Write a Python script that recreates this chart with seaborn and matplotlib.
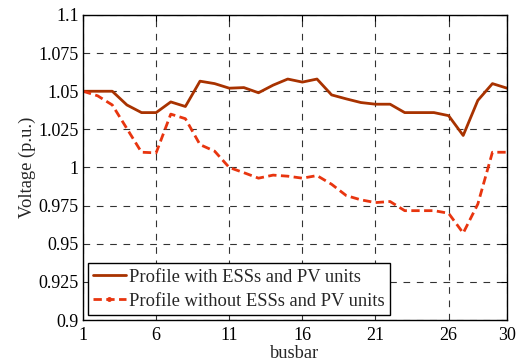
import numpy as np
import pandas as pd
import matplotlib
matplotlib.use("Agg")
import matplotlib.pyplot as plt
import seaborn as sns
from matplotlib.lines import Line2D

busbar = list(range(1, 31))
with_ess = [1.050, 1.050, 1.050, 1.041, 1.036, 1.036, 1.043, 1.040, 1.0566, 1.055,
            1.052, 1.0524, 1.049, 1.054, 1.058, 1.056, 1.058, 1.0476, 1.045, 1.0426,
            1.0415, 1.0415, 1.036, 1.036, 1.036, 1.034, 1.021, 1.044, 1.055, 1.052]
without_ess = [1.050, 1.047, 1.041, 1.0255, 1.010, 1.0096, 1.035, 1.032, 1.015, 1.0107,
               1.000, 0.9966, 0.993, 0.995, 0.9943, 0.993, 0.9947, 0.989, 0.9816, 0.9788,
               0.977, 0.9777, 0.9717, 0.9717, 0.9717, 0.970, 0.957, 0.976, 1.010, 1.010]
series_names = ["Profile with ESSs and PV units", "Profile without ESSs and PV units"]
xticks = [1, 6, 11, 16, 21, 26, 30]
yticks = [0.9, 0.925, 0.95, 0.975, 1.0, 1.025, 1.05, 1.075, 1.1]
ytick_labels = ["0.9", "0.925", "0.95", "0.975", "1", "1.025", "1.05", "1.075", "1.1"]

df = pd.DataFrame({
    "busbar": busbar * 2,
    "voltage": with_ess + without_ess,
    "series": [series_names[0]] * 30 + [series_names[1]] * 30,
})

sns.set_style("white")
plt.rcParams['font.family'] = ['Liberation Serif', 'DejaVu Serif']

fig = plt.figure(figsize=(5.19, 3.62), dpi=100)
ax = fig.add_axes([0.16, 0.116, 0.817, 0.8426])

colors = {series_names[0]: "#a83200", series_names[1]: "#e8350f"}
sns.lineplot(data=df, x="busbar", y="voltage", hue="series", style="series",
             palette=colors, dashes={series_names[0]: "", series_names[1]: (3, 1.6)},
             linewidth=2.0, ax=ax, legend=False)

ax.set_xlim(1, 30)
ax.set_ylim(0.9, 1.1)
ax.set_xticks(xticks)
ax.set_xticklabels([str(t) for t in xticks])
ax.set_yticks(yticks)
ax.set_yticklabels(ytick_labels)
ax.grid(True, color="black", linestyle=(0, (6, 6)), linewidth=0.8, alpha=0.8)
ax.tick_params(axis="both", direction="in", length=4, width=0.8, labelsize=13,
               colors="black", top=True, right=True)
ax.tick_params(axis="x", pad=5)
ax.tick_params(axis="y", pad=3)
for s in ax.spines.values():
    s.set_color("black")
    s.set_linewidth(1.0)
ax.set_xlabel("busbar", fontsize=13.3, labelpad=1)
ax.set_ylabel("Voltage (p.u.)", fontsize=13.3, labelpad=2)

handles = [
    Line2D([], [], color=colors[series_names[0]], linewidth=2.0),
    Line2D([], [], color=colors[series_names[1]], linewidth=2.0, linestyle=(0, (3, 1.6)),
           marker=".", markersize=5, markevery=[1]),
]
leg = ax.legend(handles, series_names, loc="lower left", fontsize=13.3, frameon=True,
                fancybox=False, edgecolor="black", framealpha=1, borderpad=0.3,
                labelspacing=0.38, handlelength=1.75, handletextpad=0.18,
                borderaxespad=0.25)
leg.get_frame().set_linewidth(1.0)

fig.savefig("out.png", dpi=100)
